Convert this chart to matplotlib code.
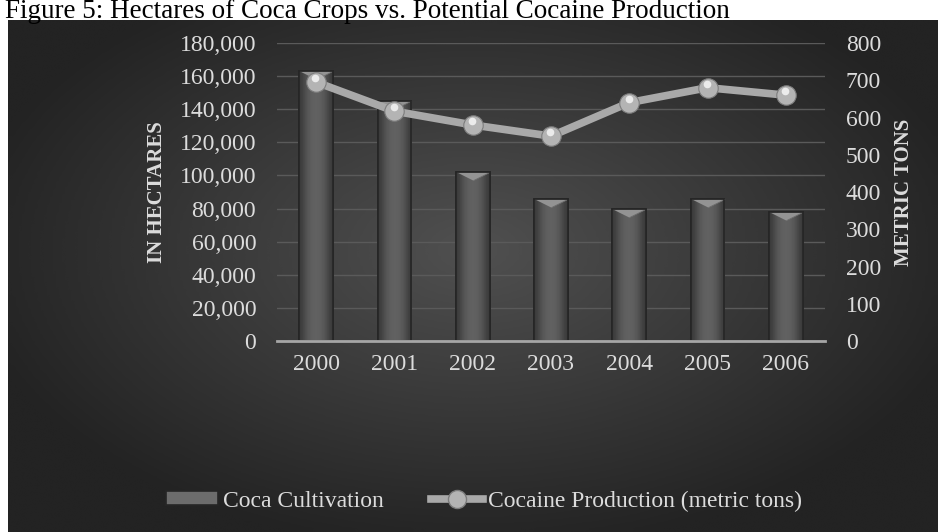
import numpy as np
import matplotlib
matplotlib.use('Agg')
import matplotlib.pyplot as plt
from matplotlib.markers import MarkerStyle
from matplotlib.patches import Patch
from matplotlib.lines import Line2D
from matplotlib.ticker import FuncFormatter
import matplotlib.transforms as mtransforms

plt.rcParams['font.family'] = ['Liberation Serif', 'DejaVu Serif']

years = ['2000', '2001', '2002', '2003', '2004', '2005', '2006']
coca_hectares = [163300, 144800, 102000, 86000, 80000, 86000, 78000]
cocaine_tons = [695, 617, 580, 550, 640, 680, 660]

title = 'Figure 5: Hectares of Coca Crops vs. Potential Cocaine Production'
left_label = 'IN HECTARES'
right_label = 'METRIC TONS'
bar_name = 'Coca Cultivation'
line_name = 'Cocaine Production (metric tons)'

W, H = 938, 532
fig = plt.figure(figsize=(W / 100, H / 100), dpi=100)
fig.patch.set_facecolor('white')

# dark panel with soft radial shading
bg = fig.add_axes([8 / W, 0, 1 - 8 / W, 512 / H])
bg.set_axis_off()
gx, gy = np.meshgrid(np.linspace(0, 1, 300), np.linspace(0, 1, 200))
dist = np.sqrt(((gx - 0.5) / 0.75) ** 2 + ((gy - 0.45) / 0.8) ** 2)
shade = np.clip(0.315 - 0.24 * dist, 0.14, 0.315)
bg.imshow(shade, cmap='gray', vmin=0, vmax=1, aspect='auto',
          extent=[0, 1, 1, 0], interpolation='bicubic')
bg.set_xlim(0, 1)
bg.set_ylim(1, 0)

fig.text(5 / W, 1 - 18 / H, title, fontsize=19.5, color='black',
         ha='left', va='baseline')

ax = fig.add_axes([277 / W, 1 - 341 / H, 548 / W, 298 / H])
ax.set_facecolor('none')
ax2 = ax.twinx()

x = np.arange(len(years))
bar_w = 0.43
bars = ax.bar(x, coca_hectares, width=bar_w, color='#585858',
              edgecolor='#262626', linewidth=1.2, zorder=3)

# horizontal shading inside each bar
grad = np.array([[0.23, 0.31, 0.36, 0.38, 0.38, 0.36, 0.31, 0.23]])
for b, xi, v in zip(bars, x, coca_hectares):
    im = ax.imshow(grad, cmap='gray', vmin=0, vmax=1, aspect='auto',
                   extent=[xi - bar_w / 2, xi + bar_w / 2, 0, v],
                   interpolation='bicubic', zorder=3.5)
    im.set_clip_path(b)

# bevel at the top of each bar
bevel = MarkerStyle([(-1, 0), (1, 0), (0, -0.5)])
ax.plot(x, coca_hectares, linestyle='none', marker=bevel, markersize=23.5,
        markerfacecolor='#939393', markeredgecolor='#6e6e6e',
        markeredgewidth=0.6, zorder=4)
ax.bar(x, coca_hectares, width=bar_w, color='none',
       edgecolor='#262626', linewidth=1.2, zorder=4.5)

ax.set_xlim(-0.5, len(years) - 0.5)
ax.set_ylim(0, 180000)
ax.set_yticks(np.arange(0, 180001, 20000))
ax.yaxis.set_major_formatter(FuncFormatter(lambda v, p: '{:,}'.format(int(v))))
ax.set_xticks(x)
ax.set_xticklabels(years)
ax.grid(axis='y', color='#5a5a5a', linewidth=1, zorder=0)
ax.set_axisbelow(True)

for s in ['left', 'right', 'top']:
    ax.spines[s].set_visible(False)
    ax2.spines[s].set_visible(False)
ax.spines['bottom'].set_color('#a6a6a6')
ax.spines['bottom'].set_linewidth(2)
ax.spines['bottom'].set_zorder(6)
ax2.spines['bottom'].set_visible(False)

ax.tick_params(axis='y', length=0, pad=15, labelsize=17, labelcolor='#dcdcdc')
ax.tick_params(axis='x', length=0, pad=9, labelsize=17, labelcolor='#dcdcdc')

# production line with sphere-like markers
ax2.plot(x, cocaine_tons, color='#a9a9a9', linewidth=5.5, zorder=5,
         solid_capstyle='round')
ax2.plot(x, cocaine_tons, linestyle='none', marker='o', markersize=14,
         markerfacecolor='#b4b4b4', markeredgecolor='#7c7c7c',
         markeredgewidth=0.8, zorder=6)
shine = mtransforms.offset_copy(ax2.transData, fig=fig, x=-0.5, y=2.8, units='points')
ax2.plot(x, cocaine_tons, linestyle='none', marker='o', markersize=5.5,
         markerfacecolor='#f2f2f2', markeredgecolor='none', alpha=0.9,
         transform=shine, zorder=7)
ax2.set_ylim(0, 800)
ax2.set_yticks(np.arange(0, 801, 100))
ax2.tick_params(axis='y', length=0, pad=15, labelsize=17, labelcolor='#dcdcdc')

fig.text(157 / W, 1 - 192 / H, left_label, rotation=90, fontsize=15,
         fontweight='bold', color='#dcdcdc', ha='center', va='center')
fig.text(904 / W, 1 - 192 / H, right_label, rotation=90, fontsize=15,
         fontweight='bold', color='#dcdcdc', ha='center', va='center')

handles = [
    Patch(facecolor='#6c6c6c', edgecolor='#262626', linewidth=1.2),
    Line2D([0], [0], color='#a9a9a9', linewidth=5.5, marker='o', markersize=13,
           markerfacecolor='#b4b4b4', markeredgecolor='#7c7c7c'),
]
leg = fig.legend(handles, [bar_name, line_name], loc='center',
                 bbox_to_anchor=(484 / W, 1 - 501 / H), ncol=2, frameon=False,
                 fontsize=17, handlelength=2.2, handleheight=0.5,
                 handletextpad=0.2, columnspacing=2.0, labelcolor='#dcdcdc')

fig.savefig('out.png', dpi=100, facecolor=fig.get_facecolor())
